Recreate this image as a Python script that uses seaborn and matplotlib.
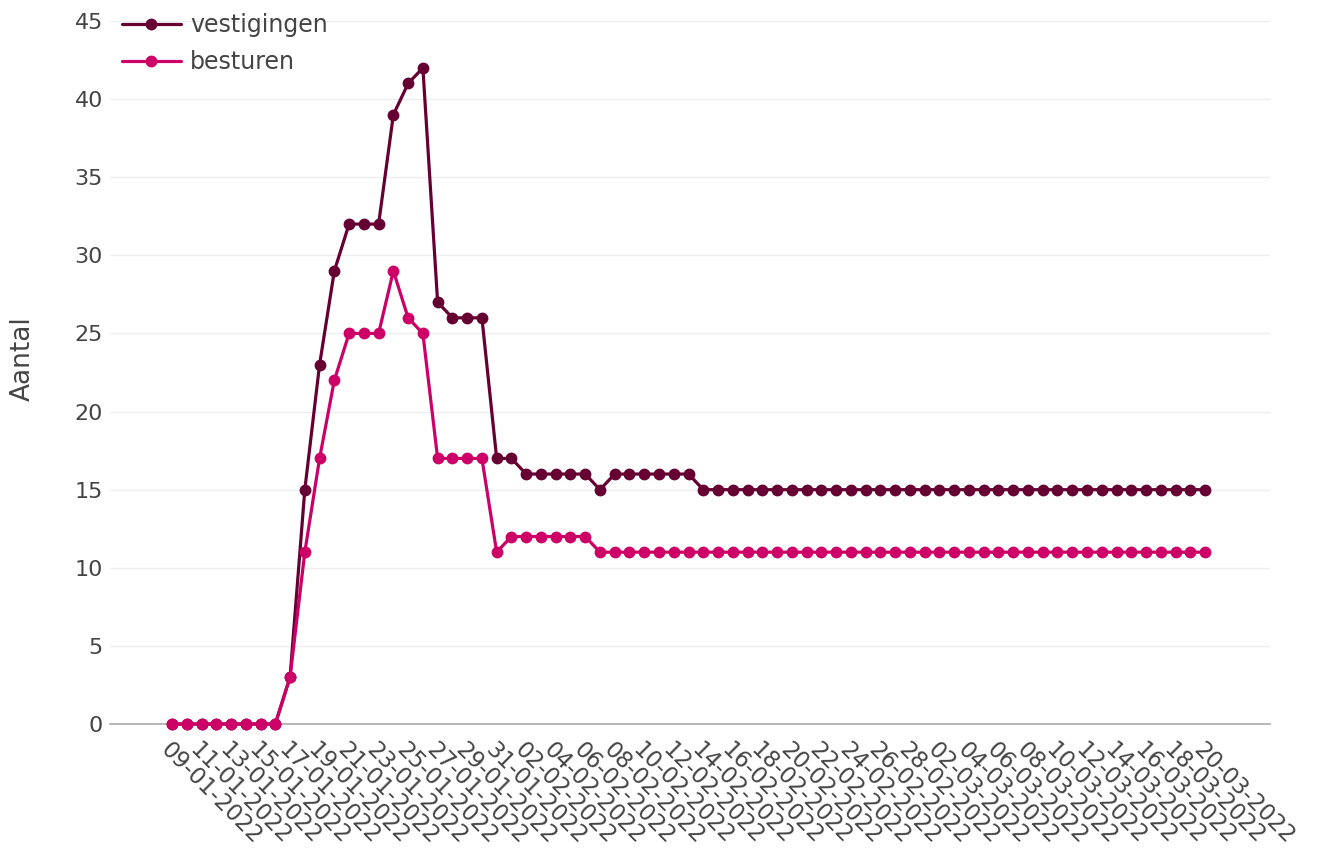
import numpy as np
import pandas as pd
import matplotlib
matplotlib.use('Agg')
import matplotlib.pyplot as plt
import seaborn as sns

# data: daily from 09-01-2022 to 20-03-2022
dates = pd.date_range('2022-01-09', '2022-03-20', freq='D')
vestigingen = [0, 0, 0, 0, 0, 0, 0, 0, 3, 15, 23, 29, 32, 32, 32, 39, 41, 42,
               27, 26, 26, 26, 17, 17, 16, 16, 16, 16, 16, 15, 16, 16, 16, 16, 16, 16] + [15] * 35
besturen = [0, 0, 0, 0, 0, 0, 0, 0, 3, 11, 17, 22, 25, 25, 25, 29, 26, 25,
            17, 17, 17, 17, 11, 12, 12, 12, 12, 12, 12] + [11] * 42
tick_labels = [d.strftime('%d-%m-%Y') for d in dates[::2]]

df = pd.DataFrame({'dag': np.arange(len(dates)), 'vestigingen': vestigingen, 'besturen': besturen})
long = df.melt(id_vars='dag', var_name='reeks', value_name='Aantal')

sns.set_style('white')
plt.rcParams['font.family'] = ['DejaVu Sans']
grey = '#444444'

fig = plt.figure(figsize=(13.19, 8.49), dpi=100)
ax = fig.add_axes([110 / 1319, 125 / 849, 1160 / 1319, 703 / 849])

sns.lineplot(data=long, x='dag', y='Aantal', hue='reeks', ax=ax,
             palette={'vestigingen': '#660033', 'besturen': '#cc0066'},
             marker='o', markersize=8.5, markeredgewidth=0, linewidth=2.3,
             clip_on=False, zorder=3)

ax.set_xlim(-4.2, len(dates) - 1 + 4.4)
ax.set_ylim(0, 45)
ax.set_yticks(range(0, 46, 5))
ax.set_xticks(df['dag'][::2])
ax.set_xticklabels(tick_labels, rotation=-45, ha='left', va='top', rotation_mode='anchor')
ax.tick_params(axis='x', length=0, pad=10, labelsize=16.5, labelcolor=grey)
ax.tick_params(axis='y', length=0, pad=5, labelsize=16, labelcolor=grey)
ax.grid(axis='y', color='#eeeeee', linewidth=1)
ax.set_axisbelow(True)
for s in ['top', 'right', 'left']:
    ax.spines[s].set_visible(False)
ax.spines['bottom'].set_color('#aaaaaa')
ax.spines['bottom'].set_linewidth(1.2)
ax.set_xlabel('')
ax.set_ylabel('Aantal', fontsize=19, color=grey)
ax.yaxis.set_label_coords(-74 / 1160, (724 - 359) / 703)

ax.legend(loc='upper left', bbox_to_anchor=(0.002, 1.025), frameon=False, fontsize=17,
          labelcolor=grey, handlelength=2.5, handletextpad=0.4, labelspacing=0.55,
          borderaxespad=0)

fig.savefig('out.png', dpi=100)
